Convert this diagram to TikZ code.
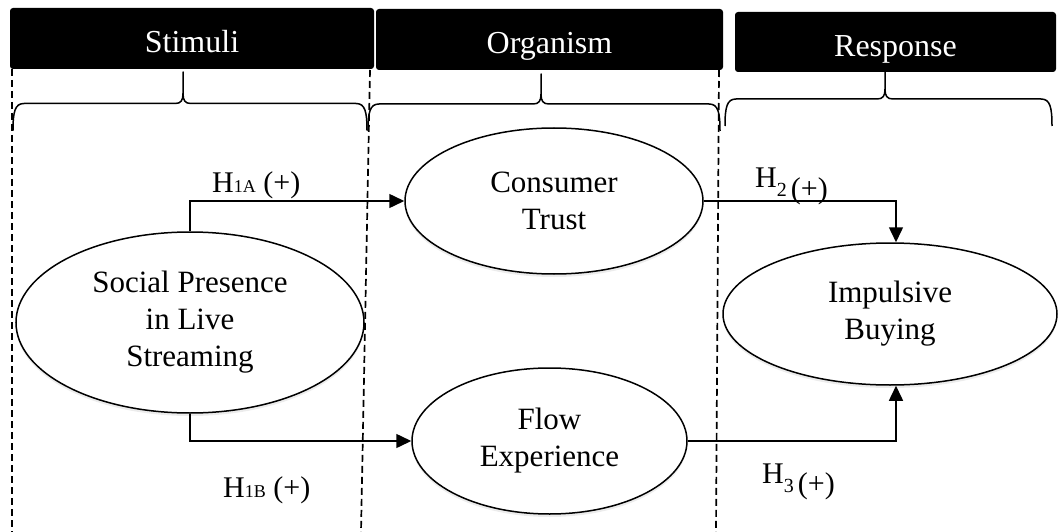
\documentclass[tikz,border=0pt]{standalone}
\usepackage{fontspec}
\setmainfont{Liberation Serif}
\usetikzlibrary{arrows.meta}
\usetikzlibrary{shapes.geometric}
\usetikzlibrary{shadows}
\usetikzlibrary{positioning}

\tikzset{
  headbox/.style={fill=black, rounded corners=3pt, text=white, inner sep=0pt,
    text height=29pt, text depth=0pt, font=\fontsize{32}{36}\selectfont},
  construct/.style={ellipse, draw, line width=1.5pt, fill=white, inner sep=0pt,
    align=center, font=\fontsize{31}{37}\selectfont,
    drop shadow={opacity=0.15, shadow xshift=0pt, shadow yshift=-3pt}},
  link/.style={line width=1.5pt, -{Triangle[length=15pt, width=14pt]}},
  hyp/.style={anchor=base west, inner sep=0pt, font=\fontsize{30}{30}\selectfont},
  divider/.style={line width=1.7pt, dash pattern=on 7pt off 4pt},
  bracestyle/.style={line width=1.5pt, line join=round},
}

% curly brace: left x, tip x, right x, bar y, tip y
\newcommand{\sorbrace}[5]{%
  \draw[bracestyle] (#1,#4+27) .. controls (#1,#4+8) and (#1+2,#4) .. (#1+11,#4)
    -- (#2-8,#4) .. controls (#2-2,#4) and (#2,#4-3) .. (#2,#4-10) -- (#2,#5)
    -- (#2,#4-10) .. controls (#2,#4-3) and (#2+2,#4) .. (#2+8,#4)
    -- (#3-11,#4) .. controls (#3-2,#4) and (#3,#4+8) .. (#3,#4+27);}

\newcommand{\hsmall}[1]{{\fontsize{18}{18}\selectfont #1}}

\begin{document}
\begin{tikzpicture}[x=1pt, y=-1pt]
\useasboundingbox (0,0) rectangle (1058,532);

% Stage headers
\node[headbox, minimum width=364pt, minimum height=61pt] (stim) at (192,38.5) {Stimuli};
\node[headbox, minimum width=347pt, minimum height=61pt] (org) at (549.5,39.5) {Organism};
\node[headbox, minimum width=321pt, minimum height=60pt] (resp) at (895.5,42) {Response};

% Braces
\sorbrace{13}{183}{367}{103.5}{72}
\sorbrace{368}{541}{720}{104}{74}
\sorbrace{725}{885}{1052}{99}{72}

% Dividers
\draw[divider] (12,69) -- (12,532);
\draw[divider] (370,70) -- (361,532);
\draw[divider] (719,70) -- (716,532);

% Constructs
\node[construct, minimum width=348pt, minimum height=181pt] (sp) at (190,322.5) {Social Presence\\in Live\\Streaming};
\node[construct, minimum width=298pt, minimum height=146pt] (ct) at (554,201) {Consumer\\Trust};
\node[construct, minimum width=275pt, minimum height=146pt] (fe) at (549.5,441) {Flow\\Experience};
\node[construct, minimum width=334pt, minimum height=142pt] (ib) at (890,314) {Impulsive\\Buying};

% Hypotheses
\draw[link] (sp.north) |- (ct.west);
\draw[link] (sp.south) |- (fe.west);
\draw[link] (ct.east) -| ([xshift=6pt]ib.north);
\draw[link] (fe.east) -| ([xshift=6pt]ib.south);

\node[hyp] (h1a) at (212,193) {H\hsmall{1A} (+)};
\node[hyp] (h1b) at (223,497) {H\hsmall{1B} (+)};
\node[hyp] (h2) at (755,188) {H\raisebox{-9pt}{\fontsize{20}{20}\selectfont 2}\hspace{4pt}\raisebox{-10pt}{(+)}};
\node[hyp] (h3) at (762,483) {H\raisebox{-9pt}{\fontsize{20}{20}\selectfont 3}\hspace{4pt}\raisebox{-10pt}{(+)}};

\end{tikzpicture}
\end{document}
